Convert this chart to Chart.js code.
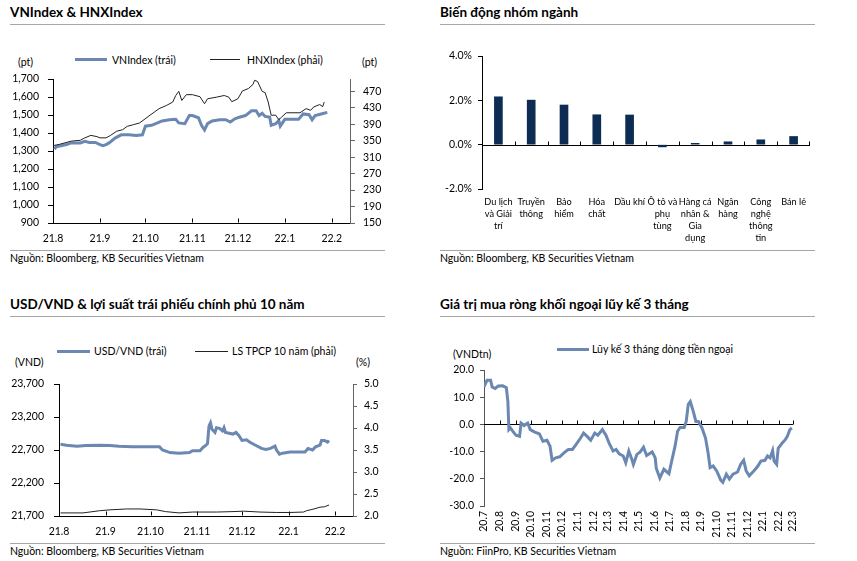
<!DOCTYPE html>
<html>
<head>
<meta charset="utf-8">
<script src="https://cdn.jsdelivr.net/npm/chart.js@4.4.1/dist/chart.umd.min.js"></script>
<style>
  body { margin: 0; width: 857px; height: 561px; background: #fff; position: relative; overflow: hidden;
         font-family: Lato, 'Noto Sans', sans-serif; color: #000; }
  .t { position: absolute; white-space: nowrap; line-height: 1; transform: translateY(-50%); }
  .title { font-size: 13.5px; font-weight: bold; }
  .small { font-size: 10.5px; }
  .rule { position: absolute; height: 1px; background: #a6a6a6; width: 375px; }
  .sw { position: absolute; }
  canvas { position: absolute; }
</style>
</head>
<body>
<!-- panel titles and rules -->
<div class="t title" style="left:10px;top:13px">VNIndex &amp; HNXIndex</div>
<div class="t title" style="left:440px;top:13px">Biến động nhóm ngành</div>
<div class="t title" style="left:10px;top:305px">USD/VND &amp; lợi suất trái phiếu chính phủ 10 năm</div>
<div class="t title" style="left:440px;top:305px">Giá trị mua ròng khối ngoại lũy kế 3 tháng</div>
<div class="rule" style="left:10px;top:24px"></div>
<div class="rule" style="left:440px;top:24px"></div>
<div class="rule" style="left:10px;top:250px"></div>
<div class="rule" style="left:440px;top:250px"></div>
<div class="rule" style="left:10px;top:316px"></div>
<div class="rule" style="left:440px;top:316px"></div>
<div class="rule" style="left:10px;top:543px"></div>
<div class="rule" style="left:440px;top:543px"></div>
<div class="t small" style="left:10px;top:258px">Nguồn: Bloomberg, KB Securities Vietnam</div>
<div class="t small" style="left:440px;top:258px">Nguồn: Bloomberg, KB Securities Vietnam</div>
<div class="t small" style="left:10px;top:551px">Nguồn: Bloomberg, KB Securities Vietnam</div>
<div class="t small" style="left:440px;top:551px">Nguồn: FiinPro, KB Securities Vietnam</div>

<!-- legends and units -->
<div class="sw" style="left:75px;top:58px;width:32px;height:3px;background:#6a88b2"></div>
<div class="t small" style="left:112px;top:60px">VNIndex (trái)</div>
<div class="sw" style="left:210px;top:59px;width:30px;height:1px;background:#222"></div>
<div class="t small" style="left:247px;top:60px">HNXIndex (phải)</div>
<div class="t small" style="left:18px;top:62px">(pt)</div>
<div class="t small" style="left:362px;top:62px">(pt)</div>

<div class="sw" style="left:57px;top:350px;width:33px;height:3px;background:#6a88b2"></div>
<div class="t small" style="left:94px;top:351px">USD/VND (trái)</div>
<div class="sw" style="left:195px;top:351px;width:33px;height:1px;background:#222"></div>
<div class="t small" style="left:232px;top:351px">LS TPCP 10 năm (phải)</div>
<div class="t small" style="left:15px;top:362px">(VND)</div>
<div class="t small" style="left:356px;top:362px">(%)</div>

<div class="sw" style="left:557px;top:348px;width:32px;height:3px;background:#6a88b2"></div>
<div class="t small" style="left:592px;top:349px">Lũy kế 3 tháng dòng tiền ngoại</div>
<div class="t small" style="left:453px;top:354px">(VNDtn)</div>

<canvas id="cTL" width="402" height="186" style="left:0;top:64px"></canvas>
<canvas id="cTR" width="390" height="206" style="left:430px;top:44px"></canvas>
<canvas id="cBL" width="402" height="176" style="left:0;top:368px"></canvas>
<canvas id="cBR" width="380" height="186" style="left:430px;top:358px"></canvas>

<script>
// ---- data ----
const indexMonths = ['21.8', '21.9', '21.10', '21.11', '21.12', '22.1', '22.2'];

const vnDates = ['2021-08-02','2021-08-03','2021-08-10','2021-08-13','2021-08-19','2021-08-22','2021-08-25','2021-08-29',
  '2021-09-01','2021-09-03','2021-09-05','2021-09-07','2021-09-11','2021-09-15','2021-09-20','2021-09-25','2021-09-29',
  '2021-10-01','2021-10-05','2021-10-09','2021-10-12','2021-10-17','2021-10-21','2021-10-23','2021-10-27','2021-10-30',
  '2021-11-01','2021-11-05','2021-11-07','2021-11-09','2021-11-11','2021-11-14','2021-11-19','2021-11-23','2021-11-26','2021-11-29',
  '2021-12-02','2021-12-06','2021-12-10','2021-12-13','2021-12-15','2021-12-17','2021-12-19','2021-12-22','2021-12-23','2021-12-26','2021-12-28','2021-12-29',
  '2022-01-01','2022-01-05','2022-01-10','2022-01-13','2022-01-17','2022-01-19','2022-01-21','2022-01-25','2022-01-29'];
const vnValues = [1310,1323,1336,1345,1345,1354,1348,1348,
  1336,1330,1336,1345,1372,1390,1390,1386,1390,
  1438,1443,1456,1467,1474,1476,1456,1452,1497,
  1497,1485,1443,1417,1452,1467,1474,1474,1461,1479,
  1488,1497,1524,1524,1497,1510,1492,1488,1443,1452,1470,1438,
  1476,1476,1476,1506,1502,1474,1497,1506,1515];

const hnxDates = ['2021-08-01','2021-08-05','2021-08-13','2021-08-19','2021-08-22','2021-08-26','2021-08-30',
  '2021-09-01','2021-09-05','2021-09-08','2021-09-12','2021-09-16','2021-09-19','2021-09-23','2021-09-27','2021-09-30',
  '2021-10-04','2021-10-07','2021-10-10','2021-10-15','2021-10-19','2021-10-21','2021-10-23','2021-10-25','2021-10-28',
  '2021-11-01','2021-11-06','2021-11-09','2021-11-11','2021-11-17','2021-11-22','2021-11-25','2021-11-27',
  '2021-12-01','2021-12-04','2021-12-08','2021-12-11','2021-12-12','2021-12-14','2021-12-17','2021-12-19','2021-12-21','2021-12-23','2021-12-26','2021-12-28','2021-12-30',
  '2022-01-02','2022-01-07','2022-01-11','2022-01-15','2022-01-18','2022-01-20','2022-01-24','2022-01-26','2022-01-27'];
const hnxValues = [338,341,349,351,357,363,360,
  357,357,363,373,377,385,389,393,401,
  412,420,428,436,444,460,470,448,462,
  462,457,440,452,456,460,456,445,
  452,471,477,487,497,494,470,467,444,412,412,401,408,
  418,418,418,428,424,432,438,433,444];

const sectors = [['Du lịch', 'và Giải', 'trí'], ['Truyền', 'thông'], ['Bảo', 'hiểm'], ['Hóa', 'chất'], ['Dầu khí'],
  ['Ô tô và', 'phụ', 'tùng'], ['Hàng cá', 'nhân &', 'Gia', 'dụng'], ['Ngân', 'hàng'], ['Công', 'nghệ', 'thông', 'tin'], ['Bán lẻ']];
const sectorChanges = [2.16, 2.01, 1.79, 1.35, 1.34, -0.10, 0.06, 0.13, 0.22, 0.37];

const usdDates = ['2021-08-02','2021-08-06','2021-08-13','2021-08-19','2021-08-28',
  '2021-09-04','2021-09-10','2021-09-19','2021-09-30',
  '2021-10-07','2021-10-09','2021-10-14','2021-10-20','2021-10-27','2021-10-29',
  '2021-11-03','2021-11-05','2021-11-07','2021-11-08','2021-11-09','2021-11-10','2021-11-11','2021-11-13','2021-11-14','2021-11-16','2021-11-18','2021-11-19','2021-11-20','2021-11-25','2021-11-27','2021-11-29',
  '2021-12-01','2021-12-04','2021-12-06','2021-12-10','2021-12-14','2021-12-17','2021-12-20','2021-12-23','2021-12-24','2021-12-26','2021-12-28',
  '2022-01-02','2022-01-08','2022-01-12','2022-01-14','2022-01-17','2022-01-19','2022-01-22','2022-01-23','2022-01-25','2022-01-27','2022-01-28'];
const usdValues = [22787,22773,22758,22768,22773,
  22768,22758,22748,22748,
  22748,22700,22661,22652,22661,22690,
  22690,22739,22773,22797,23062,23111,23014,22966,23038,23029,22990,23038,22966,22942,22966,22917,
  22845,22855,22821,22773,22724,22710,22724,22758,22700,22637,22652,
  22671,22671,22671,22724,22700,22748,22773,22845,22845,22821,22845];

const bondDates = ['2021-08-02','2021-08-17','2021-08-28','2021-09-04','2021-09-15','2021-09-24','2021-10-05','2021-10-11',
  '2021-10-20','2021-10-29','2021-11-14','2021-11-25','2021-12-02','2021-12-13','2021-12-24','2022-01-02','2022-01-11',
  '2022-01-13','2022-01-18','2022-01-22','2022-01-25','2022-01-28'];
const bondValues = [2.07,2.07,2.12,2.14,2.16,2.16,2.14,2.10,2.07,2.09,2.09,2.10,2.11,2.09,2.08,2.08,2.09,2.12,2.16,2.20,2.21,2.25];

const flowMonths = ['20.7','20.8','20.9','20.10','20.11','20.12','21.1','21.2','21.3','21.4','21.5','21.6',
  '21.7','21.8','21.9','21.10','21.11','21.12','22.1','22.2','22.3'];
const flowDates = ['2020-07-01','2020-07-07','2020-07-14','2020-07-17','2020-07-23','2020-07-29',
  '2020-08-07','2020-08-14','2020-08-17','2020-08-19','2020-08-22','2020-08-28',
  '2020-09-02','2020-09-09','2020-09-12','2020-09-18','2020-09-25','2020-09-30',
  '2020-10-09','2020-10-18','2020-10-25','2020-11-02','2020-11-08','2020-11-12','2020-11-19','2020-11-27',
  '2020-12-07','2020-12-14','2020-12-22','2020-12-29','2021-01-07','2021-01-13','2021-01-20','2021-01-27',
  '2021-02-04','2021-02-10','2021-02-19','2021-02-26','2021-03-04','2021-03-12','2021-03-18','2021-03-24',
  '2021-04-01','2021-04-06','2021-04-12','2021-04-17','2021-04-21','2021-04-28','2021-05-04','2021-05-11','2021-05-17','2021-05-28',
  '2021-06-03','2021-06-05','2021-06-12','2021-06-20','2021-06-30','2021-07-05','2021-07-12','2021-07-17','2021-07-22','2021-07-30',
  '2021-08-03','2021-08-07','2021-08-11','2021-08-17','2021-08-22','2021-08-27','2021-09-03','2021-09-10','2021-09-15','2021-09-19','2021-09-25',
  '2021-10-02','2021-10-10','2021-10-14','2021-10-21','2021-10-27','2021-11-03','2021-11-12','2021-11-18','2021-11-24','2021-11-29',
  '2021-12-05','2021-12-14','2021-12-21','2021-12-28','2022-01-05','2022-01-10','2022-01-15','2022-01-20','2022-01-23','2022-01-28','2022-01-31',
  '2022-02-08','2022-02-14','2022-02-18','2022-02-23','2022-02-27'];
const flowValues = [13.8,16.2,16.2,13.8,13.2,14.1,
  14.2,13.5,8.4,-1.9,-1.3,-2.8,
  -4.0,-4.4,0.5,-0.4,0.5,-1.9,
  -2.8,-3.5,-6.2,-5.8,-8.0,-13.2,-12.3,-11.9,
  -10.2,-9.2,-9.2,-7.4,-5.0,-3.2,-4.4,-5.8,
  -3.2,-4.0,-1.9,-4.0,-6.8,-9.8,-9.2,-10.8,
  -11.6,-14.1,-9.8,-12.3,-14.7,-11.0,-10.2,-8.4,-11.4,-10.1,
  -12.3,-16.1,-19.7,-16.5,-18.1,-13.8,-8.0,-2.5,-1.1,-1.1,
  1.1,7.4,8.4,4.7,1.1,1.1,-1.3,-5.0,-10.4,-15.9,-15.3,
  -17.1,-20.5,-21.3,-18.3,-20.1,-18.3,-17.5,-14.7,-13.2,-17.1,
  -18.9,-17.1,-15.6,-13.5,-13.2,-11.6,-12.3,-9.6,-13.5,-14.7,-8.8,
  -6.8,-5.6,-4.4,-1.9,-1.3];

// ---- helpers ----
const BLUE = '#6a88b2';
const DARK = '#222';
const NAVY = '#0c2c54';

const day = s => Date.parse(s) / 864e5;
const monthDay = lbl => { const [yy, mm] = lbl.split('.'); return day('20' + yy + '-' + mm.padStart(2, '0') + '-01'); };
const points = (dates, values) => dates.map((d, i) => ({ x: day(d), y: values[i] }));
const fmt = v => v.toLocaleString('en-US');

Chart.defaults.font.family = "Lato, 'Noto Sans', sans-serif";
Chart.defaults.font.size = 10.5;
Chart.defaults.font.lineHeight = 1.15;
Chart.defaults.color = '#000';
Chart.defaults.animation = false;
Chart.defaults.responsive = false;
Chart.defaults.devicePixelRatio = 1;
Chart.defaults.plugins.legend.display = false;
Chart.defaults.plugins.tooltip.enabled = false;
Chart.defaults.elements.point.radius = 0;
Chart.defaults.elements.line.tension = 0;

// month axis for the date charts (ticks at month starts, label "yy.m")
function monthAxis(labels, maxDate, tickOpts) {
  return {
    type: 'linear',
    min: monthDay(labels[0]),
    max: day(maxDate),
    afterBuildTicks: s => { s.ticks = labels.map(l => ({ value: monthDay(l) })); },
    ticks: Object.assign({ autoSkip: false, maxRotation: 0, callback: (v, i) => labels[i] }, tickOpts),
    grid: { drawOnChartArea: false, drawTicks: false },
    border: { color: '#000' }
  };
}

// horizontal baseline (at a y value) with small upward marks; x labels stay at the bottom
const baseMarks = {
  id: 'baseMarks',
  beforeDatasetsDraw(chart, args, opts) {
    const { ctx, chartArea, scales: { x, y } } = chart;
    const y0 = Math.round(y.getPixelForValue(opts.value)) + (opts.line ? 0.5 : -0.5);
    let marks = [];
    if (opts.between) {
      for (let i = 1; i < x.ticks.length; i++) marks.push((x.getPixelForTick(i - 1) + x.getPixelForTick(i)) / 2);
      marks.push(chartArea.right - 1);
    } else {
      marks = x.ticks.slice(1).map(t => x.getPixelForValue(t.value));
    }
    ctx.save();
    ctx.strokeStyle = '#000';
    ctx.lineWidth = 1;
    ctx.beginPath();
    if (opts.line) {
      ctx.moveTo(chartArea.left, y0);
      ctx.lineTo(chartArea.right, y0);
    }
    marks.forEach(px => {
      px = Math.round(px) + 0.5;
      ctx.moveTo(px, y0);
      ctx.lineTo(px, y0 - 4);
    });
    ctx.stroke();
    ctx.restore();
  }
};

// VNIndex & HNXIndex
new Chart(document.getElementById('cTL'), {
  type: 'line',
  data: {
    datasets: [
      { label: 'VNIndex (trái)', data: points(vnDates, vnValues), borderColor: BLUE, borderWidth: 3, yAxisID: 'y', order: 1 },
      { label: 'HNXIndex (phải)', data: points(hnxDates, hnxValues), borderColor: DARK, borderWidth: 1, yAxisID: 'y1', order: 0 }
    ]
  },
  options: {
    layout: { padding: { top: 10, left: 0, right: 0, bottom: 0 } },
    scales: {
      x: Object.assign(monthAxis(indexMonths, '2022-02-13', { padding: 10 }), { afterFit: s => { s.height = 27; } }),
      y: {
        min: 900, max: 1700,
        ticks: { stepSize: 100, padding: 9, callback: fmt },
        grid: { drawOnChartArea: false, tickLength: 5, color: '#000' },
        border: { color: '#000' },
        afterFit: s => { s.width = 53; }
      },
      y1: {
        position: 'right', min: 150, max: 500,
        afterBuildTicks: s => { s.ticks = [150, 190, 230, 270, 310, 350, 390, 430, 470].map(v => ({ value: v })); },
        ticks: { padding: 8 },
        grid: { drawOnChartArea: false, tickLength: 5, color: '#666' },
        border: { color: '#666' },
        afterFit: s => { s.width = 52; }
      }
    },
    plugins: { baseMarks: { value: 900, line: false } }
  },
  plugins: [baseMarks]
});

// Biến động nhóm ngành
new Chart(document.getElementById('cTR'), {
  type: 'bar',
  data: { labels: sectors, datasets: [{ data: sectorChanges, backgroundColor: NAVY, barThickness: 8 }] },
  options: {
    layout: { padding: { top: 10, right: 10, left: 0, bottom: 0 } },
    scales: {
      x: {
        grid: { display: false, drawTicks: false },
        border: { display: false },
        ticks: { padding: 7, autoSkip: false, maxRotation: 0, font: { size: 9.2, lineHeight: 1.3 } },
        afterFit: s => { s.height = 61; }
      },
      y: {
        min: -2, max: 4,
        ticks: { stepSize: 2, padding: 6, callback: v => v.toFixed(1) + '%' },
        grid: { drawOnChartArea: false, tickLength: 4, color: '#000' },
        border: { color: '#000' },
        afterFit: s => { s.width = 52; }
      }
    },
    plugins: { baseMarks: { value: 0, line: true, between: true } }
  },
  plugins: [baseMarks]
});

// USD/VND & 10y government bond yield
new Chart(document.getElementById('cBL'), {
  type: 'line',
  data: {
    datasets: [
      { label: 'USD/VND (trái)', data: points(usdDates, usdValues), borderColor: BLUE, borderWidth: 3, yAxisID: 'y', order: 1 },
      { label: 'LS TPCP 10 năm (phải)', data: points(bondDates, bondValues), borderColor: DARK, borderWidth: 1, yAxisID: 'y1', order: 0 }
    ]
  },
  options: {
    layout: { padding: { top: 10, left: 0, right: 0, bottom: 0 } },
    scales: {
      x: Object.assign(monthAxis(indexMonths, '2022-02-13', { padding: 10 }), { afterFit: s => { s.height = 28; } }),
      y: {
        min: 21700, max: 23700,
        ticks: { stepSize: 500, padding: 10, callback: fmt },
        grid: { drawOnChartArea: false, tickLength: 5, color: '#000' },
        border: { color: '#000' },
        afterFit: s => { s.width = 59; }
      },
      y1: {
        position: 'right', min: 2, max: 5,
        ticks: { stepSize: 0.5, padding: 7, callback: v => v.toFixed(1) },
        grid: { drawOnChartArea: false, tickLength: 4, color: '#666' },
        border: { color: '#666' },
        afterFit: s => { s.width = 49; }
      }
    },
    plugins: { baseMarks: { value: 21700, line: false } }
  },
  plugins: [baseMarks]
});

// Foreign net buying, 3-month cumulative
new Chart(document.getElementById('cBR'), {
  type: 'line',
  data: {
    datasets: [{ label: 'Lũy kế 3 tháng dòng tiền ngoại', data: points(flowDates, flowValues), borderColor: BLUE, borderWidth: 3 }]
  },
  options: {
    layout: { padding: { top: 10, right: 9, left: 0, bottom: 0 } },
    scales: {
      x: Object.assign(monthAxis(flowMonths, '2022-03-01', { padding: 5, minRotation: 90, maxRotation: 90 }), {
        border: { display: false },
        afterFit: s => { s.height = 38; }
      }),
      y: {
        min: -30, max: 20,
        ticks: { stepSize: 10, padding: 6, callback: v => v.toFixed(1) },
        grid: { drawOnChartArea: false, tickLength: 4, color: '#555' },
        border: { color: '#555' },
        afterFit: s => { s.width = 54; }
      }
    },
    plugins: { baseMarks: { value: 0, line: true } }
  },
  plugins: [baseMarks]
});
</script>
</body>
</html>
